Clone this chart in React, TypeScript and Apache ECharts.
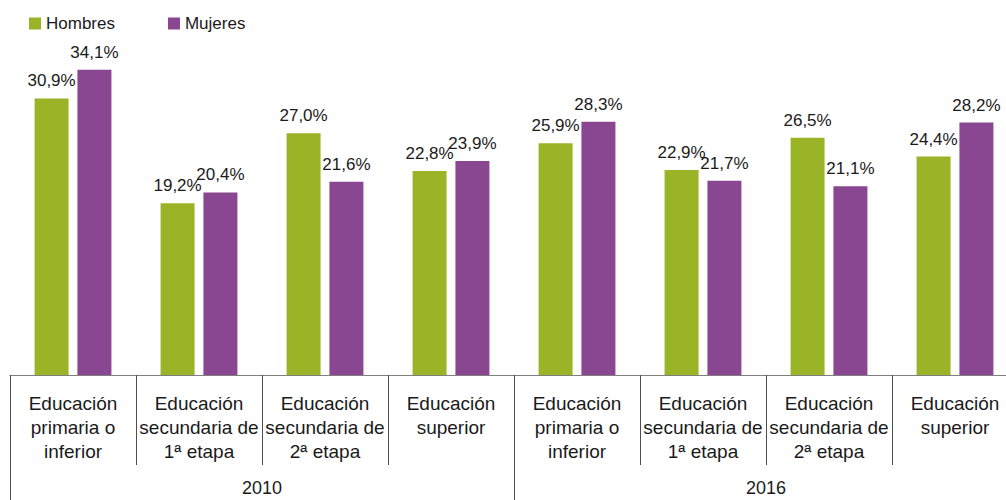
import React, { useEffect, useRef } from "react";
import * as echarts from "echarts";

const levels = [
  "Educación\nprimaria o\ninferior",
  "Educación\nsecundaria de\n1ª etapa",
  "Educación\nsecundaria de\n2ª etapa",
  "Educación\nsuperior",
];
const years = ["2010", "2016"];
const categories = [...levels, ...levels];
const hombres = [30.9, 19.2, 27.0, 22.8, 25.9, 22.9, 26.5, 24.4];
const mujeres = [34.1, 20.4, 21.6, 23.9, 28.3, 21.7, 21.1, 28.2];

const FONT = "'Liberation Sans', Arial, sans-serif";
const GREEN = "#9BB427";
const PURPLE = "#8A4791";

export default function App() {
  const ref = useRef<HTMLDivElement>(null);
  useEffect(() => {
    const chart = echarts.init(ref.current!, undefined, { renderer: "svg" });
    const label = {
      show: true,
      position: "top",
      distance: 9,
      fontFamily: FONT,
      fontSize: 17,
      color: "#1a1a1a",
      formatter: (p: any) => p.value.toFixed(1).replace(".", ",") + "%",
    };
    chart.setOption({
      animation: false,
      textStyle: { fontFamily: FONT },
      legend: {
        left: 29,
        top: 15,
        padding: 0,
        itemWidth: 12,
        itemHeight: 12,
        itemGap: 53,
        icon: "rect",
        textStyle: { fontFamily: FONT, fontSize: 17, color: "#1a1a1a" },
        data: ["Hombres", "Mujeres"],
      },
      grid: {
        left: 10,
        width: 1008,
        top: 17,
        bottom: 125,
        containLabel: false,
        outerBoundsMode: "none",
      },
      yAxis: { type: "value", min: 0, max: 40, show: false },
      xAxis: [
        {
          type: "category",
          position: "bottom",
          data: categories,
          axisLine: { show: true, lineStyle: { color: "#7f7f7f", width: 1 } },
          axisTick: { show: true, length: 90, interval: 0, lineStyle: { color: "#4d4d4d" } },
          axisLabel: {
            interval: 0,
            margin: 16,
            fontFamily: FONT,
            fontSize: 19,
            lineHeight: 24,
            color: "#1a1a1a",
          },
        },
        {
          type: "category",
          position: "bottom",
          offset: 0,
          data: years,
          axisLine: { show: false },
          axisTick: { show: true, length: 125, interval: 0, lineStyle: { color: "#4d4d4d" } },
          axisLabel: {
            interval: 0,
            margin: 104,
            fontFamily: FONT,
            fontSize: 18,
            color: "#1a1a1a",
          },
        },
      ],
      series: [
        {
          name: "Hombres",
          type: "bar",
          xAxisIndex: 0,
          data: hombres,
          barWidth: 34,
          barGap: "26%",
          itemStyle: { color: GREEN },
          label,
        },
        {
          name: "Mujeres",
          type: "bar",
          xAxisIndex: 0,
          data: mujeres,
          barWidth: 34,
          barGap: "26%",
          itemStyle: { color: PURPLE },
          label,
        },
      ],
    });
    return () => chart.dispose();
  }, []);
  return (
    <div
      ref={ref}
      style={{ position: "fixed", left: 0, top: 0, width: 1006, height: 500, background: "#fff" }}
    />
  );
}
